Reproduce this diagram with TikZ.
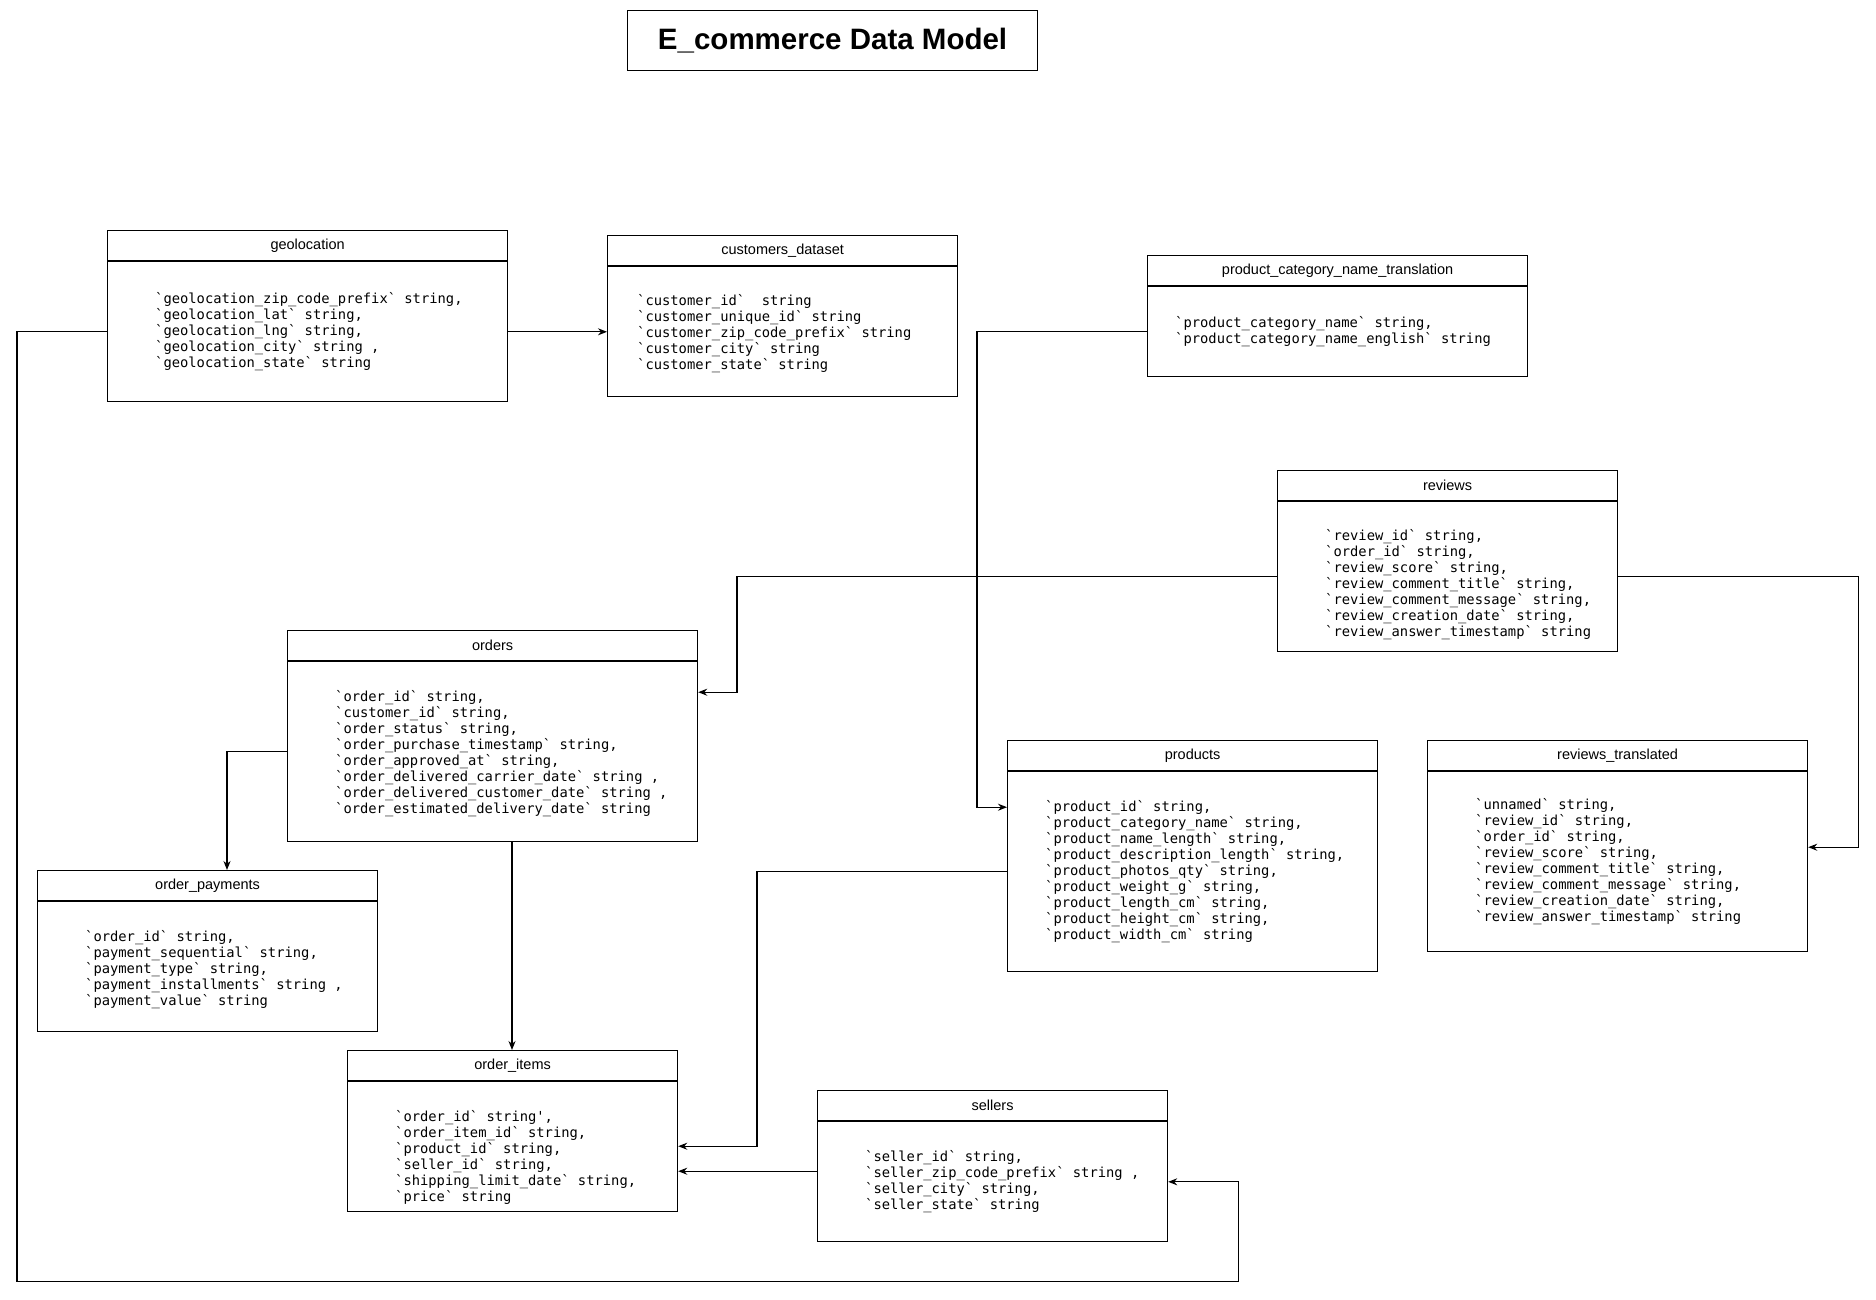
\documentclass[tikz,border=0pt]{standalone}
\usepackage{fontspec}
\setmainfont{Liberation Sans}
\setmonofont{DejaVu Sans Mono}
\usepackage{tikz}
\usetikzlibrary{calc,
                    arrows.meta}
% tabela: nome, canto, largura, altura do corpo, desvio do texto, titulo, campos
\newcommand{\tabela}[7]{%
    \node[cabeca, minimum width=#3, anchor=north west] (#1-h) at #2 {#6};
    \node[corpo, minimum width=#3, minimum height=#4, anchor=north west] (#1-b) at (#1-h.south west) {};
    \node[campos, anchor=west] (#1-t) at ($(#1-b.west)+#5$) {#7};
}

\begin{document}
\begin{tikzpicture}[x=1pt,y=-1pt,
    cabeca/.style={draw,line width=1.2pt,minimum height=30,inner sep=0pt,
        font=\fontsize{14.5}{17}\selectfont},
    corpo/.style={draw,line width=1.2pt,inner sep=0pt},
    campos/.style={inner sep=0pt,align=left,
        font=\ttfamily\fontsize{13.8}{16}\selectfont},
    seta/.style={line width=1.2pt,-{Stealth[length=9pt,width=7pt]}}]
    \fill[white] (0,0) rectangle (1876,1299);

    % titulo
    \node[draw,line width=1.2pt,minimum width=410,minimum height=60,anchor=north west,
        font=\bfseries\fontsize{29.5}{34}\selectfont] (titulo) at (627,10) {E\_commerce Data Model};

    % tabelas
    \tabela{geo}{(107,230)}{400}{140}{(48,0)}{geolocation}{%
        `geolocation\_zip\_code\_prefix` string,\\
        `geolocation\_lat` string,\\
        `geolocation\_lng` string,\\
        `geolocation\_city` string ,\\
        `geolocation\_state` string}

    \tabela{cust}{(607,235)}{350}{130}{(30,2)}{customers\_dataset}{%
        `customer\_id`~ string\\
        `customer\_unique\_id` string\\
        `customer\_zip\_code\_prefix` string\\
        `customer\_city` string\\
        `customer\_state` string}

    \tabela{pcnt}{(1147,255)}{380}{90}{(28,0)}{product\_category\_name\_translation}{%
        `product\_category\_name` string,\\
        `product\_category\_name\_english` string}

    \tabela{rev}{(1277,470)}{340}{150}{(48,8)}{reviews}{%
        `review\_id` string,\\
        `order\_id` string,\\
        `review\_score` string,\\
        `review\_comment\_title` string,\\
        `review\_comment\_message` string,\\
        `review\_creation\_date` string,\\
        `review\_answer\_timestamp` string}

    \tabela{ord}{(287,630)}{410}{180}{(48,2)}{orders}{%
        `order\_id` string,\\
        `customer\_id` string,\\
        `order\_status` string,\\
        `order\_purchase\_timestamp` string,\\
        `order\_approved\_at` string,\\
        `order\_delivered\_carrier\_date` string ,\\
        `order\_delivered\_customer\_date` string ,\\
        `order\_estimated\_delivery\_date` string}

    \tabela{pay}{(37,870)}{340}{130}{(48,3)}{order\_payments}{%
        `order\_id` string,\\
        `payment\_sequential` string,\\
        `payment\_type` string,\\
        `payment\_installments` string ,\\
        `payment\_value` string}

    \tabela{prod}{(1007,740)}{370}{200}{(38,0)}{products}{%
        `product\_id` string,\\
        `product\_category\_name` string,\\
        `product\_name\_length` string,\\
        `product\_description\_length` string,\\
        `product\_photos\_qty` string,\\
        `product\_weight\_g` string,\\
        `product\_length\_cm` string,\\
        `product\_height\_cm` string,\\
        `product\_width\_cm` string}

    \tabela{revtr}{(1427,740)}{380}{180}{(48,0)}{reviews\_translated}{%
        `unnamed` string,\\
        `review\_id` string,\\
        `order\_id` string,\\
        `review\_score` string,\\
        `review\_comment\_title` string,\\
        `review\_comment\_message` string,\\
        `review\_creation\_date` string,\\
        `review\_answer\_timestamp` string}

    \tabela{items}{(347,1050)}{330}{130}{(48,11)}{order\_items}{%
        `order\_id` string',\\
        `order\_item\_id` string,\\
        `product\_id` string,\\
        `seller\_id` string,\\
        `shipping\_limit\_date` string,\\
        `price` string}

    \tabela{sel}{(817,1090)}{350}{120}{(48,0)}{sellers}{%
        `seller\_id` string,\\
        `seller\_zip\_code\_prefix` string ,\\
        `seller\_city` string,\\
        `seller\_state` string}

    % ligacoes
    \draw[seta] (geo-b.east) -- (cust-b.west);
    \draw[seta] (geo-b.west) -- ++(-90,0) -- ++(0,950) -| ($(sel-b.east)+(70,0)$) -- (sel-b.east);
    \draw[seta] (pcnt-b.west) -- ++(-170,0) |- ($(prod-h.south west)+(0,36)$);
    \draw[seta] (rev-b.west) -- ++(-540,0) |- ($(ord-h.south east)+(0,31)$);
    \draw[seta] (rev-b.east) -- ++(240,0) |- ($(revtr-h.south east)+(0,76)$);
    \draw[seta] (ord-b.west) -| ($(pay-h.north west)+(190,0)$);
    \draw[seta] ($(ord-b.south west)+(225,0)$) -- ($(items-h.north west)+(165,0)$);
    \draw[seta] (prod-b.west) -- ++(-250,0) |- ($(items-h.south east)+(0,65)$);
    \draw[seta] ($(sel-h.south west)+(0,50)$) -- ($(items-h.south east)+(0,90)$);

\end{tikzpicture}
\end{document}
